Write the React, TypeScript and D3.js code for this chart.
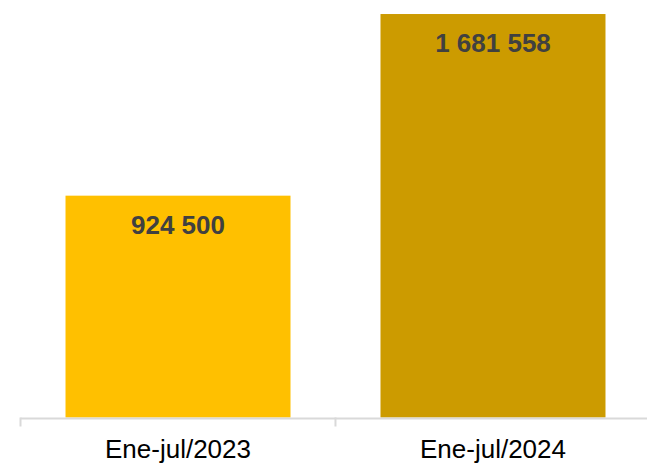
import React from "react";
import * as d3 from "d3";

const categories: string[] = ["Ene-jul/2023", "Ene-jul/2024"];
const values: number[] = [924500, 1681558];
const colors: string[] = ["#FFC000", "#CC9B00"];
const valueLabels: string[] = ["924 500", "1 681 558"];

const W = 647;
const H = 475;

export default function App() {
  const x = d3
    .scaleBand<string>()
    .domain(categories)
    .range([20.5, 650.5])
    .paddingInner(0.2857)
    .paddingOuter(0.1429);
  const y = d3.scaleLinear().domain([0, 1740000]).range([417.5, 0]);
  const y0 = y(0);
  const font = "'Liberation Sans', Arial, sans-serif";
  const step = x.step();
  const ticks = [20.5, 20.5 + step, 20.5 + 2 * step];

  return (
    <svg
      width={W}
      height={H}
      style={{ position: "absolute", left: 0, top: 0, display: "block" }}
    >
      <rect x={0} y={0} width={W} height={H} fill="#ffffff" />
      {categories.map((c, i) => (
        <rect
          key={c}
          x={x(c)}
          y={y(values[i])}
          width={x.bandwidth()}
          height={y0 - y(values[i])}
          fill={colors[i]}
        />
      ))}
      <line x1={20.5} x2={W} y1={y0 + 1} y2={y0 + 1} stroke="#D9D9D9" strokeWidth={2} />
      {ticks.map((t, i) => (
        <line key={i} x1={t} x2={t} y1={y0} y2={y0 + 9} stroke="#D9D9D9" strokeWidth={2} />
      ))}
      {categories.map((c, i) => (
        <text
          key={"v" + c}
          x={(x(c) as number) + x.bandwidth() / 2}
          y={y(values[i]) + 38}
          textAnchor="middle"
          fontFamily={font}
          fontWeight="bold"
          fontSize={26}
          fill="#404040"
        >
          {valueLabels[i]}
        </text>
      ))}
      {categories.map((c) => (
        <text
          key={"c" + c}
          x={(x(c) as number) + x.bandwidth() / 2}
          y={458.3}
          textAnchor="middle"
          fontFamily={font}
          fontSize={26}
          fill="#000000"
        >
          {c}
        </text>
      ))}
    </svg>
  );
}
